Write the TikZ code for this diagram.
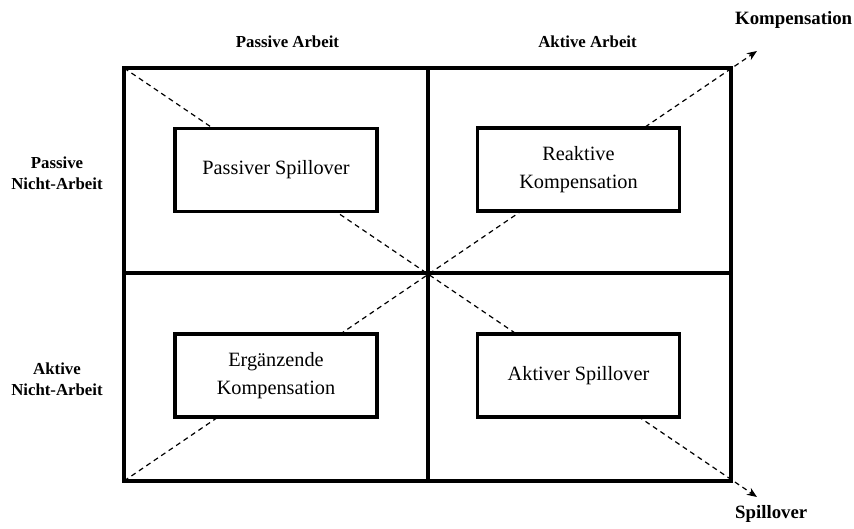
\documentclass[tikz,border=0pt]{standalone}
\usepackage{fontspec}
\setmainfont{LiberationSerif}[Extension=.ttf,UprightFont=*-Regular,BoldFont=*-Bold,ItalicFont=*-Italic,BoldItalicFont=*-BoldItalic]
\usetikzlibrary{arrows.meta}
\begin{document}
\begin{tikzpicture}[x=1pt,y=-1pt,
  frame/.style={line width=3.6pt},
  quadbox/.style={draw,line width=3.4pt,fill=white,align=center,
    minimum width=202pt,minimum height=83pt,inner sep=0pt,
    font=\fontsize{20.3}{28}\selectfont},
  axislabel/.style={align=center,inner sep=0pt,
    font=\bfseries\fontsize{16.8}{21}\selectfont},
  dirlabel/.style={anchor=west,inner sep=0pt,
    font=\bfseries\fontsize{18.8}{22}\selectfont},
  diag/.style={dash pattern=on 5pt off 4pt,line width=1.2pt,
    -{Stealth[length=10pt,width=8pt,inset=3pt]}}]
\useasboundingbox (0,0) rectangle (854,529);

% corners of the frame and arrow ends
\coordinate (nw) at (124,68);
\coordinate (sw) at (124,481);
\coordinate (kend) at (757,51);
\coordinate (send) at (757,497);

% diagonals (drawn first so the boxes cover them)
\draw[diag] (sw) -- (kend);
\draw[diag] (nw) -- (send);

% outer frame and quadrant cross
\draw[frame] (124,68) rectangle (731,481);
\draw[frame] (428,68) -- (428,481);
\draw[frame] (124,273) -- (731,273);

% quadrant boxes
\node[quadbox] (ps) at (276,170) {Passiver Spillover};
\node[quadbox] (rk) at (578.5,169.5) {Reaktive\\Kompensation};
\node[quadbox] (ek) at (276,375.5) {Ergänzende\\Kompensation};
\node[quadbox] (as) at (578.5,375.5) {Aktiver Spillover};

% axis labels
\node[axislabel] (pa) at (287.5,42) {Passive Arbeit};
\node[axislabel] (aa) at (587.5,42) {Aktive Arbeit};
\node[axislabel] (pn) at (57,173) {Passive\\Nicht-Arbeit};
\node[axislabel] (an) at (57,379) {Aktive\\Nicht-Arbeit};

% direction labels
\node[dirlabel] (komp) at (735,20) {Kompensation};
\node[dirlabel] (spill) at (735,514) {Spillover};
\end{tikzpicture}
\end{document}
